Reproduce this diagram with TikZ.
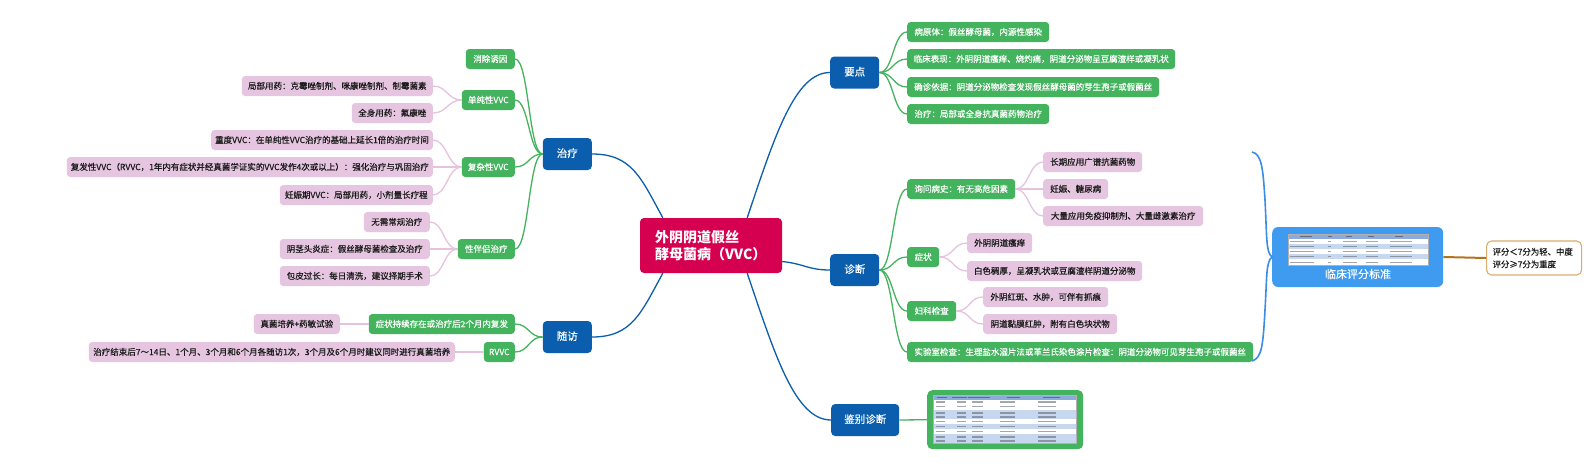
\documentclass[tikz,border=0pt]{standalone}
\usepackage{fontspec}
\setmainfont{Noto Sans CJK SC}
\newfontfamily\nsb{Noto Sans CJK SC}[FakeBold=0.45]
\definecolor{cblue}{HTML}{0B5DAD}
\definecolor{cgreen}{HTML}{44B35E}
\definecolor{cpink}{HTML}{E5C5DF}
\definecolor{cpinkline}{HTML}{E6C2DD}
\definecolor{cred}{HTML}{D5004F}
\definecolor{clblue}{HTML}{3F9BEF}
\definecolor{cbrace}{HTML}{3A8CE6}
\definecolor{cbrown}{HTML}{B5731F}
\definecolor{ctan}{HTML}{D9AD6C}
\definecolor{cthead}{HTML}{8EA9DB}
\definecolor{ctrow}{HTML}{C8D7F0}
\definecolor{ctxt}{HTML}{1A1A1A}
\definecolor{cbar}{HTML}{5A5F6A}
\tikzset{
  base/.style={rounded corners=3.5pt, inner xsep=4pt, inner ysep=0pt, text height=0.78em, text depth=0.16em, font=\nsb\fontsize{8.5}{10}\selectfont},
  grn/.style={base, fill=cgreen, text=white, minimum height=20pt},
  pnk/.style={base, fill=cpink, text=ctxt, minimum height=20pt},
  blu/.style={base, fill=cblue, text=white, minimum height=32pt, rounded corners=4pt, font=\nsb\fontsize{10.5}{12}\selectfont},
  gl/.style={draw=cgreen, line width=1.3pt},
  pl/.style={draw=cpinkline, line width=1.3pt},
  bl/.style={draw=cblue, line width=1.3pt},
}
\newcommand\myR[3]{\draw[#1] (#2.east) .. controls +(14,0) and +(-14,0) .. (#3.west);}
\newcommand\myL[3]{\draw[#1] (#2.west) .. controls +(-14,0) and +(14,0) .. (#3.east);}
\begin{document}
\begin{tikzpicture}[x=1pt,y=-1pt]
\fill[white] (0,0) rectangle (1594,474);
\useasboundingbox (0,0) rectangle (1594,474);

% central
\node[fill=cred, rounded corners=4pt, minimum width=142pt, minimum height=55pt, text width=112pt, inner xsep=15pt, inner ysep=0pt, align=left, text=white, font=\bfseries\fontsize{14}{17}\selectfont] (c) at (711,245.5) {外阴阴道假丝\\酵母菌病（VVC）};

% level 1
\node[blu, minimum width=49pt, anchor=west] (yd) at (830,72.5) {要点};
\node[blu, minimum width=49pt, anchor=west] (zd) at (830,270) {诊断};
\node[blu, minimum width=68pt, anchor=west] (jb) at (831,420) {鉴别诊断};
\node[blu, minimum width=49pt, anchor=east] (zl) at (592,154) {治疗};
\node[blu, minimum width=49pt, anchor=east] (sf) at (592,337) {随访};

\draw[bl] ([xshift=-35pt]c.north east) .. controls (775,135) and (795,72.5) .. (yd.west);
\draw[bl] ([yshift=-16pt]c.east) .. controls (805,264) and (808,270) .. (zd.west);
\draw[bl] ([xshift=-35pt]c.south east) .. controls (775,355) and (795,420) .. (jb.west);
\draw[bl] ([xshift=23pt]c.north west) .. controls (641,178) and (632,154) .. (zl.east);
\draw[bl] ([xshift=23pt]c.south west) .. controls (641,313) and (632,337) .. (sf.east);

% 要点
\node[grn, minimum width=142pt, anchor=west] (r1) at (907,32) {病原体：假丝酵母菌，内源性感染};
\node[grn, minimum width=268pt, anchor=west] (r2) at (907,59) {临床表现：外阴阴道瘙痒、烧灼痛，阴道分泌物呈豆腐渣样或凝乳状};
\node[grn, minimum width=252pt, anchor=west] (r3) at (907,87) {确诊依据：阴道分泌物检查发现假丝酵母菌的芽生孢子或假菌丝};
\node[grn, minimum width=142pt, anchor=west] (r4) at (907,114) {治疗：局部或全身抗真菌药物治疗};
\myR{gl}{yd}{r1}\myR{gl}{yd}{r2}\myR{gl}{yd}{r3}\myR{gl}{yd}{r4}

% 诊断
\node[grn, minimum width=108pt, anchor=west] (d1) at (907,189) {询问病史：有无高危因素};
\node[grn, minimum width=32pt, anchor=west] (d2) at (907,257) {症状};
\node[grn, minimum width=49pt, anchor=west] (d3) at (907,311) {妇科检查};
\node[grn, minimum width=346pt, anchor=west] (d4) at (907,352) {实验室检查：生理盐水湿片法或革兰氏染色涂片检查：阴道分泌物可见芽生孢子或假菌丝};
\myR{gl}{zd}{d1}\myR{gl}{zd}{d2}\myR{gl}{zd}{d3}\myR{gl}{zd}{d4}

\node[pnk, minimum width=99pt, anchor=west] (p1) at (1043,162) {长期应用广谱抗菌药物};
\node[pnk, minimum width=65pt, anchor=west] (p2) at (1043,189) {妊娠、糖尿病};
\node[pnk, minimum width=160pt, anchor=west] (p3) at (1043,216) {大量应用免疫抑制剂、大量雌激素治疗};
\node[pnk, minimum width=65pt, anchor=west] (p4) at (967,243) {外阴阴道瘙痒};
\node[pnk, minimum width=175pt, anchor=west] (p5) at (967,271) {白色稠厚，呈凝乳状或豆腐渣样阴道分泌物};
\node[pnk, minimum width=125pt, anchor=west] (p6) at (983,297) {外阴红斑、水肿，可伴有抓痕};
\node[pnk, minimum width=134pt, anchor=west] (p7) at (983,324) {阴道黏膜红肿，附有白色块状物};
\myR{pl}{d1}{p1}\myR{pl}{d1}{p2}\myR{pl}{d1}{p3}
\myR{pl}{d2}{p4}\myR{pl}{d2}{p5}
\myR{pl}{d3}{p6}\myR{pl}{d3}{p7}

% 鉴别诊断 table
\node[fill=cgreen, rounded corners=5pt, minimum width=156pt, minimum height=59pt, inner sep=0pt, anchor=north west] (tb) at (927,390) {};
\draw[gl] (jb.east) -- (tb.west);
\fill[white] (933,395) rectangle (1076,443);
\fill[cthead] (933,395) rectangle (1076,399.5);
\fill[ctrow] (933,410) rectangle (1076,419);
\fill[ctrow] (933,424) rectangle (1076,429);
\fill[ctrow] (933,434) rectangle (1076,443);
\foreach \xx/\ll in {937/10,952/15,968/22,1007/13,1043/17}
  \fill[cbar, opacity=0.8] (\xx,396.7) rectangle (\xx+\ll,397.9);
\foreach \yy in {402,406.5,413,417,421.5,426.5,431.5,437,441}
  \foreach \xx/\ll in {936/9,957/9,972/11,1000/15,1038/18}
    \fill[cbar, opacity=0.55] (\xx,\yy-0.6) rectangle (\xx+\ll,\yy+0.6);
\draw[gray!60, line width=0.3pt] (933,395) rectangle (1076,443);

% brace and scoring
\node[fill=clblue, rounded corners=6pt, minimum width=171pt, minimum height=60pt, inner sep=0pt, anchor=west] (pf) at (1272,257) {};
\fill[white] (1288,234) rectangle (1428,265);
\fill[cthead] (1288,234) rectangle (1428,239);
\fill[ctrow] (1288,244) rectangle (1428,249);
\fill[ctrow] (1288,254) rectangle (1428,259);
\foreach \xx/\ll in {1300/12,1328/4,1346/6,1368/6,1395/8}
  \fill[cbar, opacity=0.8] (\xx,235.9) rectangle (\xx+\ll,237.1);
\foreach \yy in {241.5,246.5,251.5,256.5,262}
  \foreach \xx/\ll in {1290/24,1328/3,1343/14,1366/12,1390/22}
    \fill[cbar, opacity=0.55] (\xx,\yy-0.5) rectangle (\xx+\ll,\yy+0.5);
\draw[gray!60, line width=0.3pt] (1288,234) rectangle (1428,265);
\node[text=white, font=\nsb\fontsize{11}{12}\selectfont, inner sep=0pt] (pft) at (1358,274) {临床评分标准};

\draw[cbrace, line width=1.6pt] (1252,152) .. controls (1262,154) and (1263,170) .. (1265,200)
   .. controls (1267,240) and (1266,252) .. (pf.west);
\draw[cbrace, line width=1.6pt] (pf.west) .. controls (1266,262) and (1267,275) .. (1265,310)
   .. controls (1263,345) and (1262,358) .. (1252,361);

\node[draw=ctan, line width=1.1pt, fill=white, rounded corners=5pt, minimum width=95pt, minimum height=34pt, inner xsep=6pt, inner ysep=0pt, text width=83pt, align=left, text=ctxt, font=\nsb\fontsize{8.4}{12.5}\selectfont, anchor=west] (ps) at (1486,258) {评分＜7分为轻、中度\\评分≥7分为重度};
\draw[cbrown, line width=2pt] (pf.east) -- (ps.west);

% 治疗 (left)
\node[grn, minimum width=49pt, anchor=east] (l1) at (515,59) {消除诱因};
\node[grn, minimum width=53pt, anchor=east] (l2) at (515,100) {单纯性VVC};
\node[grn, minimum width=53pt, anchor=east] (l3) at (515,167) {复杂性VVC};
\node[grn, minimum width=57pt, anchor=east] (l4) at (515,249) {性伴侣治疗};
\myL{gl}{zl}{l1}\myL{gl}{zl}{l2}\myL{gl}{zl}{l3}\myL{gl}{zl}{l4}

\node[pnk, minimum width=191pt, anchor=east] (q1) at (433,86) {局部用药：克霉唑制剂、咪康唑制剂、制霉菌素};
\node[pnk, minimum width=81pt, anchor=east] (q2) at (433,113) {全身用药：氟康唑};
\node[pnk, minimum width=221pt, anchor=east] (q3) at (433,140) {重度VVC：在单纯性VVC治疗的基础上延长1倍的治疗时间};
\node[pnk, minimum width=361pt, anchor=east] (q4) at (433,167) {复发性VVC（RVVC，1年内有症状并经真菌学证实的VVC发作4次或以上）：强化治疗与巩固治疗};
\node[pnk, minimum width=153pt, anchor=east] (q5) at (433,195) {妊娠期VVC：局部用药，小剂量长疗程};
\node[pnk, minimum width=66pt, anchor=east] (q6) at (430,222) {无需常规治疗};
\node[pnk, minimum width=150pt, anchor=east] (q7) at (430,249) {阴茎头炎症：假丝酵母菌检查及治疗};
\node[pnk, minimum width=150pt, anchor=east] (q8) at (430,276) {包皮过长：每日清洗，建议择期手术};
\myL{pl}{l2}{q1}\myL{pl}{l2}{q2}
\myL{pl}{l3}{q3}\myL{pl}{l3}{q4}\myL{pl}{l3}{q5}
\myL{pl}{l4}{q6}\myL{pl}{l4}{q7}\myL{pl}{l4}{q8}

% 随访
\node[grn, minimum width=146pt, anchor=east] (s1) at (515,324) {症状持续存在或治疗后2个月内复发};
\node[grn, minimum width=31pt, anchor=east] (s2) at (515,352) {RVVC};
\myL{gl}{sf}{s1}\myL{gl}{sf}{s2}
\node[pnk, minimum width=86pt, anchor=east] (t1) at (340,324) {真菌培养+药敏试验};
\node[pnk, minimum width=366pt, anchor=east] (t2) at (455,352) {治疗结束后7～14日、1个月、3个月和6个月各随访1次，3个月及6个月时建议同时进行真菌培养};
\myL{pl}{s1}{t1}\myL{pl}{s2}{t2}
\end{tikzpicture}
\end{document}
